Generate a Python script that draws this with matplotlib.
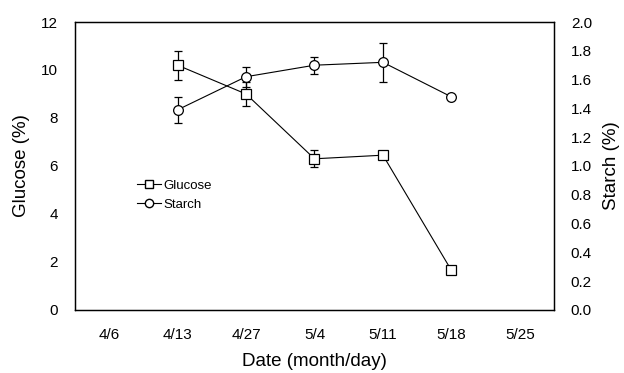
import matplotlib
matplotlib.use("Agg")
import matplotlib.pyplot as plt
from matplotlib.lines import Line2D

plt.rcParams['font.family'] = ['Liberation Sans', 'DejaVu Sans']

# data
dates = ["4/6", "4/13", "4/27", "5/4", "5/11", "5/18", "5/25"]
sample_idx = [1, 2, 3, 4, 5]
glucose = [10.2, 9.0, 6.3, 6.45, 1.65]
glucose_err = [0.6, 0.5, 0.35, 0.12, 0.1]
starch = [1.39, 1.62, 1.70, 1.72, 1.48]
starch_err = [0.09, 0.07, 0.06, 0.135, 0.01]

fig = plt.figure(figsize=(6.24, 3.73), dpi=100)
ax = fig.add_axes([0.120, 0.169, 0.768, 0.772])
ax2 = ax.twinx()

style = dict(color="black", lw=0.8, ms=7, mfc="white", mec="black", mew=0.9,
             elinewidth=0.9, capsize=3, capthick=0.9)
ax.errorbar(sample_idx, glucose, yerr=glucose_err, marker="s", **style)
ax2.errorbar(sample_idx, starch, yerr=starch_err, marker="o", **style)

ax.set_xlim(-0.5, len(dates) - 0.5)
ax.set_xticks(range(len(dates)))
ax.set_xticklabels(dates)
ax.set_ylim(0, 12)
ax.set_yticks(range(0, 13, 2))
ax2.set_ylim(0, 2.0)
ax2.set_yticks([i / 10 for i in range(0, 21, 2)])
ax2.set_yticklabels(["%.1f" % (i / 10) for i in range(0, 21, 2)])

for a in (ax, ax2):
    a.tick_params(length=0, labelsize=11, pad=12)
    for s in a.spines.values():
        s.set_linewidth(0.9)
ax.tick_params(axis="x", pad=13)

ax.set_xlabel("Date (month/day)", fontsize=13.5, labelpad=8)
ax.set_ylabel("Glucose (%)", fontsize=13.5, labelpad=8)
ax2.set_ylabel("Starch (%)", fontsize=13.5, labelpad=8)

handles = [Line2D([], [], color="black", lw=0.8, marker="s", ms=6, mfc="white", mec="black"),
           Line2D([], [], color="black", lw=0.8, marker="o", ms=6, mfc="white", mec="black")]
ax2.legend(handles, ["Glucose", "Starch"], loc="upper left", bbox_to_anchor=(0.105, 0.495),
           frameon=False, fontsize=9.5, handlelength=1.8, handletextpad=0.2, labelspacing=0.55)

fig.savefig("out.png", dpi=100)
